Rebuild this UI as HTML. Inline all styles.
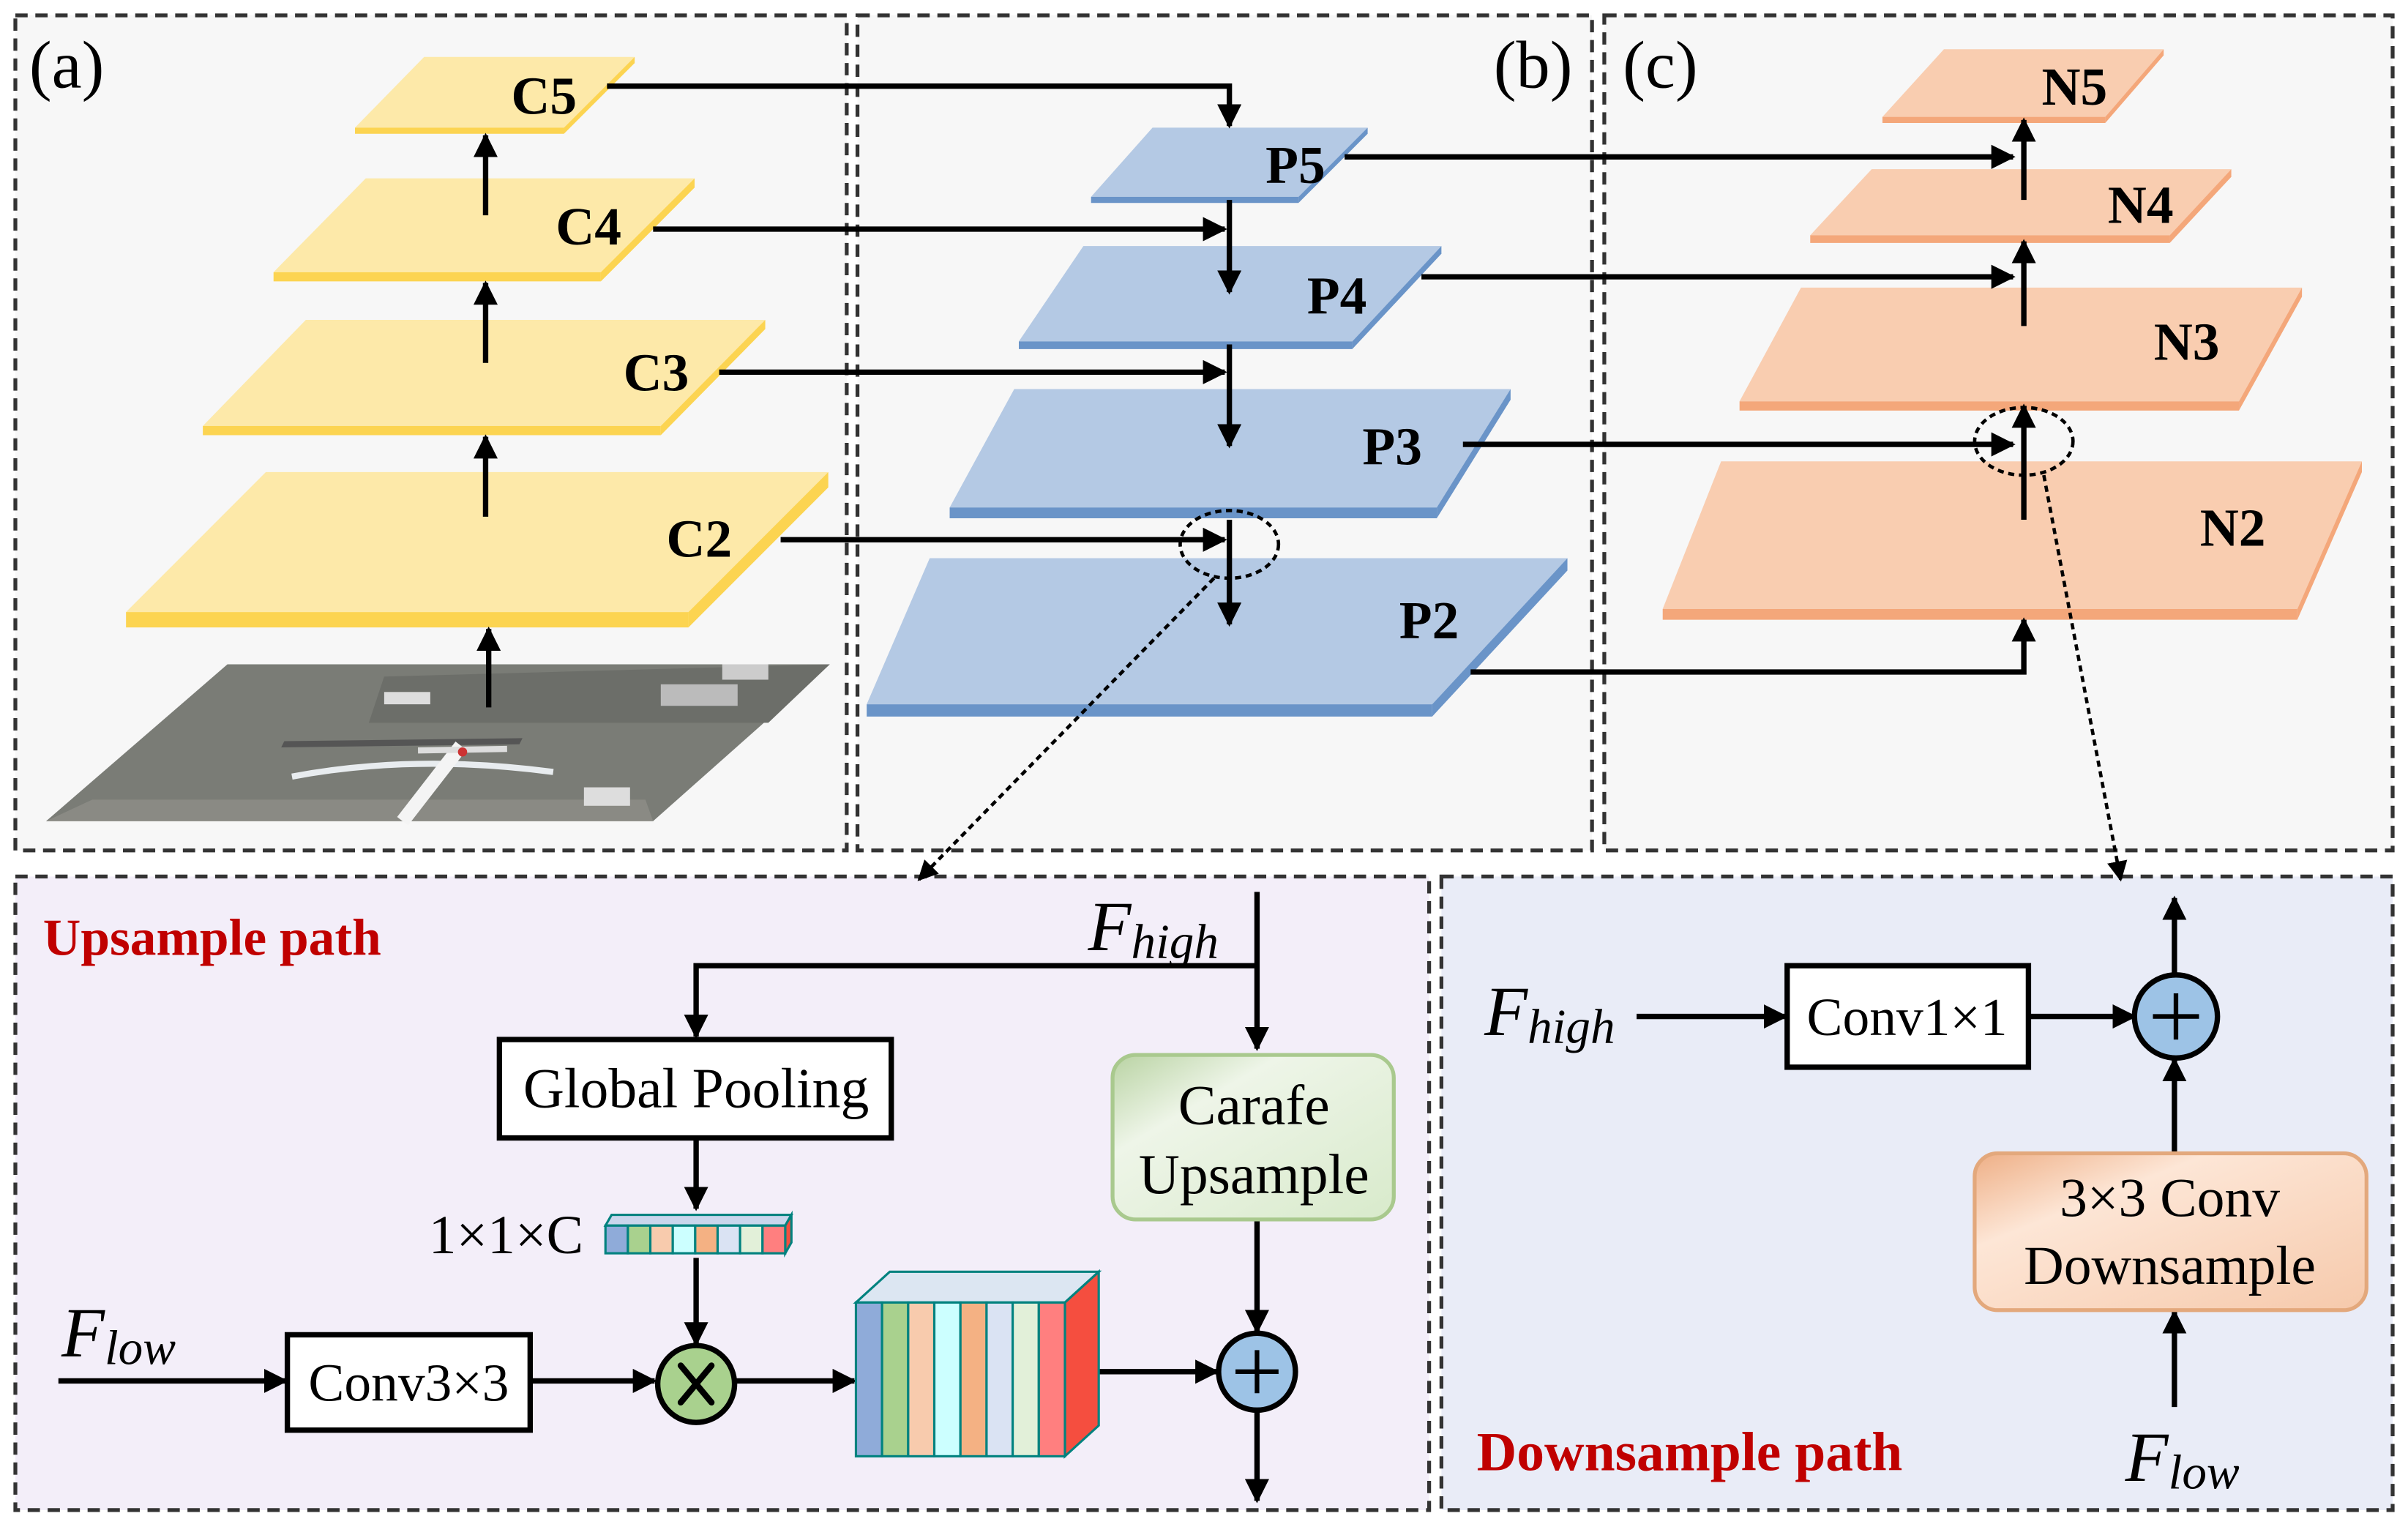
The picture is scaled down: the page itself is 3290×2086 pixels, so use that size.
<!DOCTYPE html>
<html><head><meta charset="utf-8"><style>
html,body{margin:0;padding:0;background:#fff;}
svg{display:block;}
text{font-family:"Liberation Serif",serif;}
</style></head><body>
<svg width="3290" height="2086" viewBox="0 0 1567 993" preserveAspectRatio="none" xmlns="http://www.w3.org/2000/svg">
<defs>
<marker id="ar" viewBox="0 0 10 10" refX="9" refY="5" markerWidth="4.5" markerHeight="4.5" orient="auto" markerUnits="strokeWidth"><path d="M0,0 L10,5 L0,10 z" fill="#000"/></marker>
<marker id="ar2" viewBox="0 0 10 10" refX="9" refY="5" markerWidth="6" markerHeight="6" orient="auto" markerUnits="strokeWidth"><path d="M0,0 L10,5 L0,10 z" fill="#000"/></marker>
<linearGradient id="gg" x1="0" y1="0" x2="1" y2="1"><stop offset="0" stop-color="#b9d3a3"/><stop offset=".3" stop-color="#eef5e8"/><stop offset="1" stop-color="#d8eacb"/></linearGradient>
<linearGradient id="og" x1="0" y1="0" x2="1" y2="1"><stop offset="0" stop-color="#eeaf86"/><stop offset=".3" stop-color="#fde6d6"/><stop offset="1" stop-color="#f6c9ab"/></linearGradient>
</defs>
<rect width="1567" height="993" fill="#fff"/>
<g stroke="#333" stroke-width="2.5" stroke-dasharray="8,5">
<rect x="10" y="10" width="541" height="543" fill="#f7f7f7"/>
<rect x="558" y="10" width="478" height="543" fill="#f7f7f7"/>
<rect x="1044" y="10" width="513" height="543" fill="#f7f7f7"/>
<rect x="10" y="570" width="920" height="412" fill="#f3eef9"/>
<rect x="938" y="570" width="619" height="412" fill="#e9ecf7"/>
</g>
<text x="19" y="57" font-size="44">(a)</text>
<text x="972" y="57" font-size="44">(b)</text>
<text x="1056" y="57" font-size="44">(c)</text>

<polygon points="148,432 540,432 425,534 30,534" fill="#7a7c76"/>
<polygon points="250,440 540,432 500,470 240,470" fill="#6c6e69"/>
<polygon points="60,520 420,520 425,534 30,534" fill="#8a8a84"/>
<rect x="250" y="450" width="30" height="8" fill="#ddd"/>
<rect x="430" y="445" width="50" height="14" fill="#bbb"/>
<rect x="470" y="432" width="30" height="10" fill="#ccc"/>
<rect x="380" y="512" width="30" height="12" fill="#ddd"/>
<polygon points="185,482 340,480 338,484 183,486" fill="#555"/>
<path d="M190,505 Q270,490 360,502" stroke="#e8ecef" stroke-width="4" fill="none"/>
<path d="M300,485 L262,534" stroke="#f4f4f4" stroke-width="9"/>
<path d="M272,488 L330,487" stroke="#ddd" stroke-width="4"/>
<circle cx="301" cy="489" r="3" fill="#c33"/>

<g fill="#fde9a9">
<polygon points="276,37 413,37 367,83 231,83"/>
<polygon points="238,116 452,116 391,177 178,177"/>
<polygon points="199,208 498,208 430,277 132,277"/>
<polygon points="173,307 539,307 448,398 82,398"/>
</g>
<g fill="#fcd451">
<polygon points="231,83 367,83 367,87 231,87"/><polygon points="367,83 413,37 413,41 367,87"/>
<polygon points="178,177 391,177 391,183 178,183"/><polygon points="391,177 452,116 452,122 391,183"/>
<polygon points="132,277 430,277 430,283 132,283"/><polygon points="430,277 498,208 498,214 430,283"/>
<polygon points="82,398 448,398 448,408 82,408"/><polygon points="448,398 539,307 539,317 448,408"/>
</g>
<g font-weight="bold" font-size="35" text-anchor="middle">
<text x="354" y="74">C5</text><text x="383" y="159">C4</text><text x="427" y="254">C3</text><text x="455" y="362">C2</text>
</g>
<g stroke="#000" stroke-width="3.5" fill="none" marker-end="url(#ar)">
<line x1="316" y1="140" x2="316" y2="88"/>
<line x1="316" y1="236" x2="316" y2="184"/>
<line x1="316" y1="336" x2="316" y2="284"/>
<line x1="318" y1="460" x2="318" y2="409"/>
</g>

<g fill="#b4c9e4">
<polygon points="750,83 890,83 845,128 710,128"/>
<polygon points="705,160 938,160 880,222 663,222"/>
<polygon points="660,253 983,253 935,330 618,330"/>
<polygon points="605,363 1020,363 932,458 564,458"/>
</g>
<g fill="#6a94c8">
<polygon points="710,128 845,128 845,132 710,132"/><polygon points="845,128 890,83 890,87 845,132"/>
<polygon points="663,222 880,222 880,227 663,227"/><polygon points="880,222 938,160 938,165 880,227"/>
<polygon points="618,330 935,330 935,337 618,337"/><polygon points="935,330 983,253 983,260 935,337"/>
<polygon points="564,458 932,458 932,466 564,466"/><polygon points="932,458 1020,363 1020,371 932,466"/>
</g>
<g font-weight="bold" font-size="35" text-anchor="middle">
<text x="843" y="119">P5</text><text x="870" y="204">P4</text><text x="906" y="302">P3</text><text x="930" y="415">P2</text>
</g>

<g fill="#f9cdb0">
<polygon points="1265,32 1408,32 1370,76 1225,76"/>
<polygon points="1218,110 1452,110 1412,153 1178,153"/>
<polygon points="1172,187 1498,187 1457,261 1132,261"/>
<polygon points="1120,300 1537,300 1495,396 1082,396"/>
</g>
<g fill="#f4a77a">
<polygon points="1225,76 1370,76 1370,80 1225,80"/><polygon points="1370,76 1408,32 1408,36 1370,80"/>
<polygon points="1178,153 1412,153 1412,158 1178,158"/><polygon points="1412,153 1452,110 1452,115 1412,158"/>
<polygon points="1132,261 1457,261 1457,267 1132,267"/><polygon points="1457,261 1498,187 1498,193 1457,267"/>
<polygon points="1082,396 1495,396 1495,403 1082,403"/><polygon points="1495,396 1537,300 1537,307 1495,403"/>
</g>
<g font-weight="bold" font-size="35" text-anchor="middle">
<text x="1350" y="68">N5</text><text x="1393" y="145">N4</text><text x="1423" y="234">N3</text><text x="1453" y="355">N2</text>
</g>

<g stroke="#000" stroke-width="3.5" fill="none">
<polyline points="395,56 800,56 800,82" marker-end="url(#ar)"/>
<line x1="425" y1="149" x2="797" y2="149" marker-end="url(#ar)"/>
<line x1="468" y1="242" x2="797" y2="242" marker-end="url(#ar)"/>
<line x1="508" y1="351" x2="797" y2="351" marker-end="url(#ar)"/>
<line x1="800" y1="130" x2="800" y2="190" marker-end="url(#ar)"/>
<line x1="800" y1="224" x2="800" y2="290" marker-end="url(#ar)"/>
<line x1="800" y1="338" x2="800" y2="406" marker-end="url(#ar)"/>
<line x1="875" y1="102" x2="1310" y2="102" marker-end="url(#ar)"/>
<line x1="925" y1="180" x2="1310" y2="180" marker-end="url(#ar)"/>
<line x1="952" y1="289" x2="1310" y2="289" marker-end="url(#ar)"/>
<polyline points="957,437 1317,437 1317,403" marker-end="url(#ar)"/>
<line x1="1317" y1="130" x2="1317" y2="78" marker-end="url(#ar)"/>
<line x1="1317" y1="212" x2="1317" y2="157" marker-end="url(#ar)"/>
<line x1="1317" y1="338" x2="1317" y2="264" marker-end="url(#ar)"/>
</g>
<g stroke="#000" stroke-width="2.2" fill="none" stroke-dasharray="4,3">
<ellipse cx="800" cy="354" rx="32" ry="22"/>
<ellipse cx="1317" cy="287" rx="32" ry="22"/>
<line x1="790" y1="376" x2="598" y2="572" marker-end="url(#ar2)"/>
<line x1="1330" y1="309" x2="1380" y2="572" marker-end="url(#ar2)"/>
</g>

<text x="28" y="621" font-size="34" font-weight="bold" fill="#c00000">Upsample path</text>
<text x="708" y="618" font-size="46" font-style="italic">F<tspan font-size="32" dy="5">high</tspan></text>
<g stroke="#000" stroke-width="3.5" fill="none">
<line x1="818" y1="580" x2="818" y2="682" marker-end="url(#ar)"/>
<polyline points="818,628 453,628 453,674" marker-end="url(#ar)"/>
<line x1="453" y1="740" x2="453" y2="786" marker-end="url(#ar)"/>
<line x1="453" y1="818" x2="453" y2="874" marker-end="url(#ar)"/>
<line x1="38" y1="898" x2="186" y2="898" marker-end="url(#ar)"/>
<line x1="345" y1="898" x2="426" y2="898" marker-end="url(#ar)"/>
<line x1="478" y1="898" x2="556" y2="898" marker-end="url(#ar)"/>
<line x1="715" y1="892" x2="792" y2="892" marker-end="url(#ar)"/>
<line x1="818" y1="793" x2="818" y2="866" marker-end="url(#ar)"/>
<line x1="818" y1="918" x2="818" y2="976" marker-end="url(#ar)"/>
</g>
<rect x="325" y="676" width="255" height="64" fill="#fff" stroke="#000" stroke-width="3.5"/>
<text x="453" y="720" font-size="37" text-anchor="middle">Global Pooling</text>
<text x="279" y="815" font-size="36">1×1×C</text>
<g stroke="#00827f" stroke-width="1.5">
<polygon points="394,797 398,790 515,790 511,797" fill="#c9d6ec"/>
<polygon points="511,797 515,790 515,808 511,815" fill="#f54e3f"/>
<rect x="394" y="797" width="14.6" height="18" fill="#8fabd9"/>
<rect x="408.6" y="797" width="14.6" height="18" fill="#a9d18e"/>
<rect x="423.2" y="797" width="14.6" height="18" fill="#f8cbad"/>
<rect x="437.8" y="797" width="14.6" height="18" fill="#ccffff"/>
<rect x="452.4" y="797" width="14.6" height="18" fill="#f4b183"/>
<rect x="467" y="797" width="14.6" height="18" fill="#dae3f3"/>
<rect x="481.6" y="797" width="14.6" height="18" fill="#e2f0d9"/>
<rect x="496.2" y="797" width="14.8" height="18" fill="#ff7f7f"/>
</g>
<circle cx="453" cy="900" r="25" fill="#a9d18e" stroke="#000" stroke-width="3.5"/>
<path d="M443,888 L463,912 M463,888 L443,912" stroke="#000" stroke-width="4" stroke-linecap="round"/>
<text x="40" y="882" font-size="46" font-style="italic">F<tspan font-size="32" dy="5">low</tspan></text>
<rect x="187" y="868" width="158" height="62" fill="#fff" stroke="#000" stroke-width="3.5"/>
<text x="266" y="911" font-size="35" text-anchor="middle">Conv3×3</text>
<g stroke="#00827f" stroke-width="1.5">
<polygon points="557,847 579,827 715,827 693,847" fill="#dce6f2"/>
<polygon points="693,847 715,827 715,927 693,947" fill="#f54e3f"/>
<rect x="557" y="847" width="17" height="100" fill="#8fabd9"/>
<rect x="574" y="847" width="17" height="100" fill="#a9d18e"/>
<rect x="591" y="847" width="17" height="100" fill="#f8cbad"/>
<rect x="608" y="847" width="17" height="100" fill="#ccffff"/>
<rect x="625" y="847" width="17" height="100" fill="#f4b183"/>
<rect x="642" y="847" width="17" height="100" fill="#dae3f3"/>
<rect x="659" y="847" width="17" height="100" fill="#e2f0d9"/>
<rect x="676" y="847" width="17" height="100" fill="#ff7f7f"/>
</g>
<rect x="724" y="686" width="183" height="107" rx="15" fill="url(#gg)" stroke="#a9c98e" stroke-width="2.5"/>
<text x="816" y="731" font-size="37" text-anchor="middle">Carafe</text>
<text x="816" y="776" font-size="37" text-anchor="middle">Upsample</text>
<circle cx="818" cy="892" r="25" fill="#9dc3e6" stroke="#000" stroke-width="3.5"/>
<path d="M804,892 H832 M818,878 V906" stroke="#000" stroke-width="3"/>

<text x="966" y="673" font-size="46" font-style="italic">F<tspan font-size="32" dy="5">high</tspan></text>
<g stroke="#000" stroke-width="3.5" fill="none">
<line x1="1065" y1="661" x2="1162" y2="661" marker-end="url(#ar)"/>
<line x1="1320" y1="661" x2="1389" y2="661" marker-end="url(#ar)"/>
<line x1="1415" y1="634" x2="1415" y2="584" marker-end="url(#ar)"/>
<line x1="1415" y1="750" x2="1415" y2="689" marker-end="url(#ar)"/>
<line x1="1415" y1="915" x2="1415" y2="853" marker-end="url(#ar)"/>
</g>
<rect x="1163" y="628" width="157" height="66" fill="#fff" stroke="#000" stroke-width="3.5"/>
<text x="1241" y="673" font-size="35" text-anchor="middle">Conv1×1</text>
<circle cx="1416" cy="661" r="27" fill="#9dc3e6" stroke="#000" stroke-width="3.5"/>
<path d="M1401,661 H1431 M1416,646 V676" stroke="#000" stroke-width="3"/>
<rect x="1285" y="750" width="255" height="102" rx="15" fill="url(#og)" stroke="#e3a87c" stroke-width="2.5"/>
<text x="1412" y="791" font-size="36" text-anchor="middle">3×3 Conv</text>
<text x="1412" y="835" font-size="36" text-anchor="middle">Downsample</text>
<text x="1383" y="963" font-size="46" font-style="italic">F<tspan font-size="32" dy="5">low</tspan></text>
<text x="961" y="956" font-size="36" font-weight="bold" fill="#c00000">Downsample path</text>
</svg>
</body></html>
